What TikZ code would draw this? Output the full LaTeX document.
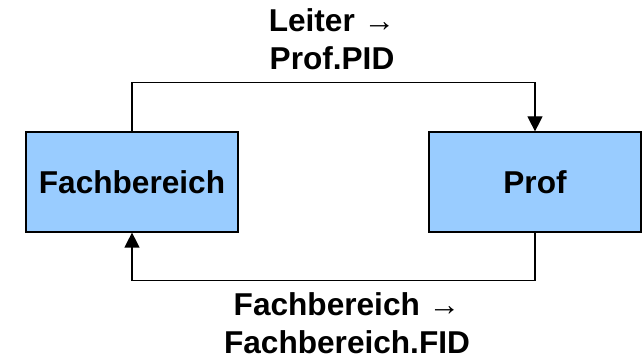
\documentclass[tikz,border=0pt]{standalone}
\usepackage{fontspec}
\setmainfont{Liberation Sans}
\usetikzlibrary{arrows.meta}
\definecolor{boxblue}{HTML}{99CCFF}
\begin{document}
\begin{tikzpicture}[x=0.5pt, y=-0.5pt, line width=0.6pt,
        font=\fontsize{15.8}{19}\selectfont\bfseries,
        main/.style = {draw, fill=boxblue, minimum width=106pt, minimum height=50pt, inner sep=0pt},
        arr/.style = {-{Triangle[length=7.5pt, width=7.5pt]}},
        lbl/.style = {align=center, inner sep=0pt}]
        \useasboundingbox (0,0) rectangle (642,356);

        \node[main] (fb) at (132,182) {Fachbereich};
        \node[main] (pf) at (535,182) {Prof};

        \draw[arr] (fb.north) -- ++(0,-49) -| (pf.north);
        \draw[arr] (pf.south) -- ++(0,48) -| (fb.south);

        \node[lbl, anchor=base] (top) at (332,70) {Leiter →\\Prof.PID};
        \node[lbl, anchor=base] (bot) at (347,354) {Fachbereich →\\Fachbereich.FID};

    \end{tikzpicture}
\end{document}
